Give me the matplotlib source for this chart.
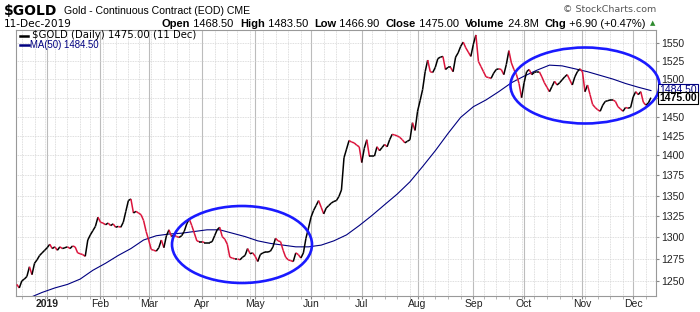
import numpy as np
import pandas as pd
import matplotlib
matplotlib.use('Agg')
import matplotlib.pyplot as plt
from matplotlib.collections import LineCollection
from matplotlib.patches import Ellipse
from matplotlib.ticker import FixedLocator, NullLocator, FixedFormatter

# daily closes, 13-Dec-2018 .. 11-Dec-2019 (trading days)
closes = [
    1246, 1242, 1250, 1252, 1255, 1266, 1257, 1270, 1274, 1279,
    1282, 1285, 1288, 1292, 1287, 1289, 1285, 1289, 1287, 1288,
    1289, 1287, 1290, 1289, 1282, 1281, 1280, 1278, 1297, 1303,
    1308, 1313, 1324, 1318, 1317, 1315, 1317, 1314, 1316, 1312,
    1313, 1312, 1318, 1331, 1344, 1346, 1329, 1331, 1329, 1327,
    1320, 1307, 1297, 1286, 1285, 1284, 1288, 1297, 1288, 1302,
    1309, 1301, 1303, 1301, 1300, 1302, 1307, 1316, 1322, 1314,
    1305, 1296, 1295, 1295, 1294, 1294, 1294, 1295, 1302, 1309,
    1312, 1301, 1298, 1292, 1277, 1276, 1275, 1275, 1274, 1277,
    1279, 1287, 1281, 1282, 1278, 1272, 1280, 1282, 1283, 1283,
    1284, 1289, 1299, 1296, 1295, 1285, 1277, 1274, 1273, 1272,
    1282, 1280, 1276, 1282, 1299, 1311, 1324, 1332, 1338, 1344,
    1336, 1328, 1335, 1338, 1341, 1343, 1344, 1349, 1357, 1397,
    1408, 1419, 1417, 1416, 1413, 1411, 1391, 1409, 1420, 1399,
    1399, 1399, 1411, 1406, 1410, 1414, 1411, 1420, 1427, 1426,
    1425, 1423, 1420, 1416, 1418, 1420, 1442, 1432, 1457, 1471,
    1486, 1510, 1526, 1510, 1509, 1516, 1528, 1530, 1531, 1513,
    1516, 1516, 1510, 1530, 1536, 1545, 1551, 1543, 1537, 1531,
    1548, 1561, 1524, 1517, 1510, 1503, 1502, 1501, 1508, 1513,
    1514, 1513, 1506, 1520, 1539, 1522, 1513, 1506, 1494, 1475,
    1495, 1510, 1513, 1506, 1509, 1510, 1510, 1503, 1495, 1489,
    1483, 1490, 1497, 1492, 1495, 1499, 1503, 1506, 1499, 1492,
    1503, 1510, 1514, 1510, 1483, 1492, 1479, 1466, 1462, 1459,
    1457, 1465, 1470, 1471, 1472, 1472, 1470, 1463, 1460, 1457,
    1462, 1461, 1462, 1476, 1483, 1479, 1483, 1469, 1465, 1468,
    1475,
]

# MA(50) every 5 trading days
ma_days = [0, 5, 10, 15, 20, 25, 30, 35, 40, 45, 50, 55, 60, 65, 70, 75, 80,
           85, 90, 95, 100, 105, 110, 115, 120, 125, 130, 135, 140, 145, 150,
           155, 160, 165, 170, 175, 180, 185, 190, 195, 200, 205, 210, 215,
           220, 225, 230, 235, 240, 245, 250]
ma_values = [1226, 1231, 1237, 1242, 1246, 1252, 1262, 1270, 1279, 1287, 1297,
             1302, 1304, 1305, 1307, 1309, 1309, 1305, 1301, 1296, 1293, 1291,
             1289, 1289, 1291, 1296, 1303, 1314, 1326, 1339, 1352, 1367, 1386,
             1406, 1428, 1449, 1463, 1472, 1483, 1495, 1504, 1512, 1519, 1518,
             1514, 1510, 1505, 1500, 1494, 1489, 1484.5]

ytick_values = [1250, 1275, 1300, 1325, 1350, 1375, 1400, 1425, 1450, 1475,
                1500, 1525, 1550]
holidays = ['2018-12-25', '2019-01-01', '2019-01-21', '2019-02-18',
            '2019-04-19', '2019-05-27', '2019-07-04', '2019-09-02',
            '2019-11-28']

W, H = 700, 312
RED = '#dc143c'
BLUE = '#1a1aff'
NAVY = '#000080'


def fx(px):
    return px / W


def fy(py):
    return 1 - py / H


dates = pd.bdate_range('2018-12-13', '2019-12-11').drop(pd.to_datetime(holidays))
dates = dates[:len(closes)]

fig = plt.figure(figsize=(7, 3.12), dpi=100)
ax = fig.add_axes([fx(16), fy(296), fx(656) - fx(16), fy(30) - fy(296)])

# month and week starts
month_pos, month_lab, week_pos = [], [], []
for i in range(1, len(dates)):
    if dates[i].month != dates[i - 1].month:
        month_pos.append(i)
        month_lab.append('2019' if dates[i].month == 1 else dates[i].strftime('%b'))
    if dates[i].weekday() < dates[i - 1].weekday():
        week_pos.append(i)

for p in week_pos:
    ax.axvline(p, color='#d4d4d4', lw=0.6, ls=(0, (1, 1)), zorder=0)
for p in month_pos:
    ax.axvline(p, color='#bcbcbc', lw=0.8, zorder=0)
for v in ytick_values:
    ax.axhline(v, color='#d4d4d4', lw=0.6, ls=(0, (1, 1)), zorder=0)

x = np.arange(len(closes))
c = np.array(closes, dtype=float)
pts = np.column_stack([x, c])
segs = np.stack([pts[:-1], pts[1:]], axis=1)
cols = np.where(np.diff(c) < 0, RED, 'black')
ax.add_collection(LineCollection(segs, colors=cols, linewidths=1.1, zorder=3))
ax.plot(ma_days, ma_values, color=NAVY, lw=0.8, zorder=2)

ax.set_yscale('log')
ax.set_ylim(1233, 1568)
ax.set_xlim(-0.3, 252)

ax.yaxis.tick_right()
ax.yaxis.set_major_locator(FixedLocator(ytick_values))
ax.yaxis.set_minor_locator(NullLocator())
ax.yaxis.set_major_formatter(FixedFormatter([str(v) for v in ytick_values]))
ax.tick_params(axis='y', which='major', length=2.5, color='#888888', pad=1,
               labelsize=7.5, labelcolor='#222222')

ax.xaxis.set_major_locator(FixedLocator(month_pos))
ax.xaxis.set_major_formatter(FixedFormatter(month_lab))
ax.xaxis.set_minor_locator(FixedLocator(week_pos))
ax.tick_params(axis='x', which='major', length=2, color='#888888', pad=0.5,
               labelsize=7.5, labelcolor='#222222')
ax.tick_params(axis='x', which='minor', length=2, color='#aaaaaa')
for lab in ax.get_xticklabels() + ax.get_yticklabels():
    lab.set_fontfamily('Liberation Sans')
ax.get_xticklabels()[0].set_fontweight('bold')

for s in ax.spines.values():
    s.set_color('#999999')
    s.set_linewidth(0.8)

# annotation ellipses
for cx, cy, w, h in [(242, 244.5, 140, 77), (585, 85.5, 149, 76)]:
    fig.add_artist(Ellipse((fx(cx), fy(cy)), w / W, h / H, transform=fig.transFigure,
                           fill=False, ec=BLUE, lw=1.9, zorder=10))

# right-side value boxes (the latest close sits over the MA value)
fig.text(fx(659), fy(90), '1484.50', ha='left', va='center', fontsize=7.5,
         family='Liberation Sans', color=NAVY, zorder=11,
         bbox=dict(boxstyle='square,pad=0.12', fc='white', ec=NAVY, lw=0.8))
fig.text(fx(659), fy(98), '1475.00', ha='left', va='center', fontsize=7.5,
         family='Liberation Sans', weight='bold', color='black', zorder=12,
         bbox=dict(boxstyle='square,pad=0.12', fc='white', ec='black', lw=0.8))

# header
fig.text(fx(4), fy(11), '$GOLD', fontsize=10, weight='bold', family='DejaVu Sans',
         va='center', ha='left')
fig.text(fx(64), fy(11), 'Gold - Continuous Contract (EOD) CME', fontsize=7.6,
         family='Liberation Sans', va='center', ha='left')
fig.text(fx(4), fy(24), '11-Dec-2019', fontsize=7.6, family='DejaVu Sans',
         va='center', ha='left')
fig.text(fx(656), fy(9), '\u00a9 StockCharts.com', fontsize=6.8, family='DejaVu Sans',
         color='#555555', va='center', ha='right')

pieces = [('Open', 'bold'), (' 1468.50  ', 'normal'), ('High', 'bold'),
          (' 1483.50  ', 'normal'), ('Low', 'bold'), (' 1466.90  ', 'normal'),
          ('Close', 'bold'), (' 1475.00  ', 'normal'), ('Volume', 'bold'),
          (' 24.8M  ', 'normal'), ('Chg', 'bold'), (' +6.90 (+0.47%)', 'normal')]
renderer = fig.canvas.get_renderer()
texts = []
for s, wt in pieces:
    texts.append(fig.text(0, fy(24), s, fontsize=8, weight=wt,
                          family='Liberation Sans', va='center', ha='left'))
widths = [t.get_window_extent(renderer).width for t in texts]
xpos = 646 - sum(widths)
for t, w in zip(texts, widths):
    t.set_x(fx(xpos))
    xpos += w
fig.text(fx(653), fy(23), '\u25b2', fontsize=5, color='#2e8b2e', ha='center', va='center')

# legend
fig.add_artist(plt.Line2D([fx(20), fx(28)], [fy(35.5), fy(35.5)], color='black', lw=1.8,
                          transform=fig.transFigure))
fig.text(fx(32), fy(35.5), '$GOLD (Daily) 1475.00 (11 Dec)', fontsize=7.3,
         family='DejaVu Sans', va='center', ha='left')
fig.add_artist(plt.Line2D([fx(20), fx(29)], [fy(45), fy(45)], color=NAVY, lw=1.8,
                          transform=fig.transFigure))
fig.text(fx(29.5), fy(45), 'MA(50) 1484.50', fontsize=6.9, family='Liberation Sans',
         color=NAVY, va='center', ha='left')

fig.savefig('out.png', dpi=100)
